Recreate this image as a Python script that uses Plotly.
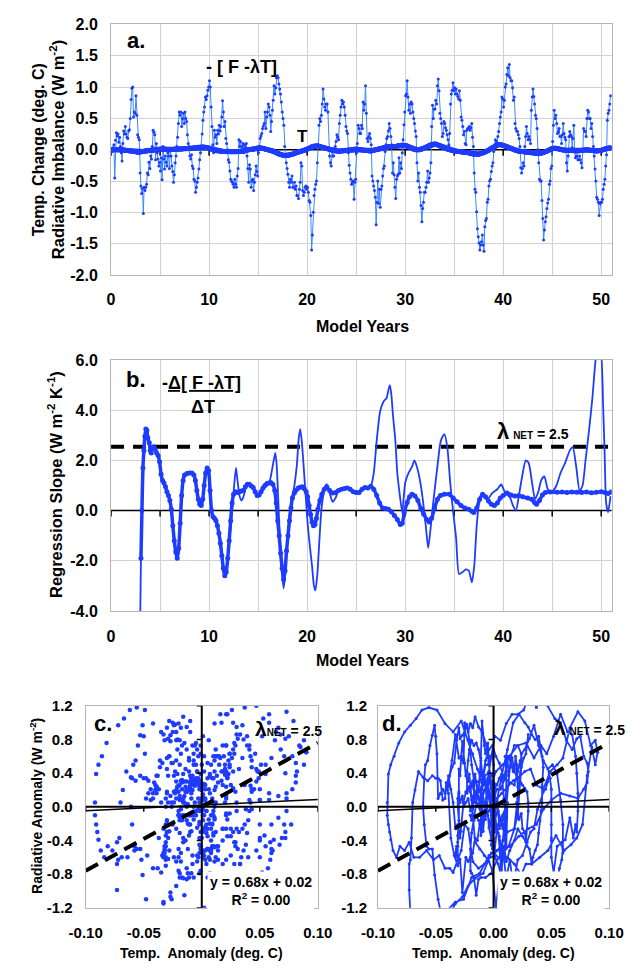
import plotly.graph_objects as go

W, H = 640, 973
FONT = "Liberation Sans"
BLUE = "#1e3cff"
LBLUE = "#3a86ff"


def fx(p):
    return p / W


def fy(p):
    return 1 - p / H


# ---------------- data: panel a (monthly, 51 model years) ----------------
rad_rows = [
    [0.02, -0.03, 0.03, 0.08, -0.45, 0.15, 0.27, 0.22, 0.25, 0.12, 0.2, 0.05],
    [-0.05, -0.18, 0.1, 0.3, 0.25, 0.37, 0.25, 0.2, 0.18, 0.3, 0.32, 0.5],
    [0.8, 0.98, 1.0, 0.52, 0.6, 0.58, 0.86, 0.55, 0.24, 0.2, 0.16, -0.37],
    [-0.58, -0.7, -0.62, -1.02, -0.6, -0.65, -0.6, -0.55, -0.37, -0.4, -0.2, -0.3],
    [-0.1, -0.15, 0.05, 0.31, 0.28, 0.24, -0.16, 0.1, -0.05, -0.15, -0.26, -0.2],
    [-0.34, -0.13, -0.48, 0.05, -0.15, -0.31, -0.1, -0.2, -0.26, -0.05, -0.1, -0.3],
    [0.0, -0.1, -0.26, -0.35, -0.52, -0.4, -0.21, -0.1, 0.05, 0.2, 0.42, 0.6],
    [0.55, 0.6, 0.37, 0.5, 0.58, 0.42, 0.6, 0.5, 0.45, 0.24, 0.1, 0.05],
    [-0.1, -0.15, -0.08, -0.26, -0.3, -0.47, -0.5, -0.68, -0.6, -0.52, -0.45, -0.31],
    [-0.16, -0.05, 0.05, 0.25, 0.47, 0.6, 0.68, 0.84, 0.8, 0.86, 0.95, 1.0],
    [1.1, 1.0, 0.68, 0.37, 0.08, -0.05, 0.31, 0.2, 0.24, 0.1, 0.31, 0.25],
    [0.39, 0.3, 0.37, 0.52, 0.78, 0.6, 0.37, 0.45, 0.18, 0.1, 0.0, -0.16],
    [-0.2, -0.34, -0.47, -0.5, -0.52, -0.55, -0.6, -0.47, -0.55, -0.6, -0.42, -0.3],
    [0.16, 0.05, 0.13, 0.0, 0.05, 0.1, -0.05, 0.08, 0.03, 0.1, -0.1, -0.3],
    [-0.52, -0.24, -0.31, -0.6, -0.5, -0.47, -0.65, -0.52, -0.4, -0.26, -0.35, -0.42],
    [-0.05, 0.05, 0.18, 0.22, 0.26, 0.34, 0.38, 0.42, 0.6, 0.34, 0.52, 0.6],
    [0.73, 0.68, 0.55, 0.29, 0.45, 0.63, 0.79, 1.02, 0.89, 0.99, 1.15, 1.18],
    [1.15, 1.05, 0.97, 0.89, 0.76, 0.6, 0.5, 0.39, 0.05, -0.1, -0.21, -0.3],
    [-0.39, -0.52, -0.6, -0.47, -0.52, -0.42, -0.6, -0.6, -0.52, -0.63, -0.58, -0.73],
    [-0.73, -0.78, -0.63, -0.52, -0.21, -0.26, -0.65, -0.73, -0.68, -0.6, -0.58, -0.63],
    [-0.6, -0.68, -0.81, -0.84, -1.05, -1.6, -1.36, -1.0, -0.73, -0.63, -0.55, -0.5],
    [-0.21, 0.08, 0.39, 0.5, 0.45, 0.55, 0.73, 0.97, 0.81, 0.68, 0.63, 0.73],
    [0.73, 0.6, 0.0, -0.1, -0.21, -0.26, -0.03, -0.1, -0.1, 0.0, 0.05, 0.13],
    [0.24, 0.2, 0.16, 0.42, 0.55, 0.68, 0.79, 0.73, 0.76, 0.68, 0.55, 0.37],
    [0.3, 0.26, -0.05, -0.25, -0.37, -0.47, -0.55, -0.52, -0.5, -0.79, -0.52, -0.47],
    [-0.05, 0.1, 0.39, 0.34, 0.26, 0.26, 0.39, 0.34, 0.76, 0.63, 0.73, 1.02],
    [0.58, 0.18, 0.13, 0.21, 0.26, 0.18, 0.08, -0.42, -0.5, -0.58, -0.65, -0.76],
    [-1.2, -0.84, -0.5, -0.86, -0.63, -0.92, -0.63, -0.58, -0.42, -0.3, -0.26, -0.03],
    [0.08, 0.18, 0.21, 0.3, 0.42, 0.34, 0.21, 0.08, -0.37, -0.21, -0.4, -0.6],
    [-0.78, -0.47, -0.42, -0.39, -0.13, -0.37, -0.21, -0.3, -0.05, 0.16, 0.4, 0.6],
    [0.86, 0.89, 1.1, 0.84, 0.63, 0.73, 0.58, 0.76, 0.73, 0.6, 0.5, 0.42],
    [0.3, 0.21, -0.21, -0.5, -0.37, -0.6, -0.68, -0.89, -1.15, -0.94, -0.84, -0.68],
    [-0.68, -0.6, -0.52, -0.34, -0.52, -0.45, -0.37, -0.21, 0.37, 0.71, 0.5, 0.65],
    [0.65, 0.79, 0.73, 1.02, 1.13, 0.94, 0.58, 0.5, 0.42, 0.21, 0.26, 0.45],
    [0.42, 0.35, 0.31, 0.24, 0.16, 0.08, 0.26, 0.73, 0.89, 0.95, 1.07, 0.94],
    [0.99, 0.89, 0.97, 0.89, 0.85, 0.81, 0.94, 0.79, 0.52, 0.47, 0.37, 0.24],
    [0.29, 0.1, 0.08, 0.31, 0.34, 0.34, 0.37, 0.31, 0.35, 0.42, 0.2, 0.05],
    [-0.37, -0.63, -0.68, -0.99, -1.26, -1.39, -1.49, -1.6, -1.52, -1.47, -1.36, -1.52],
    [-1.62, -1.23, -1.13, -1.1, -0.84, -0.79, -0.58, -0.5, -0.47, -0.35, -0.26, -0.21],
    [-0.03, 0.08, 0.16, 0.13, 0.1, 0.21, 0.29, 0.42, 0.52, 0.6, 0.84, 0.81],
    [0.68, 0.79, 1.0, 1.05, 1.2, 1.31, 1.18, 1.36, 1.15, 1.1, 1.1, 0.99],
    [0.79, 0.84, 0.42, 0.34, 0.3, 0.29, 0.24, 0.18, 0.05, -0.29, -0.37, -0.3],
    [-0.21, -0.26, 0.05, 0.21, 0.37, 0.26, 0.16, 0.21, 0.16, 0.1, 0.63, 0.84],
    [0.97, 0.85, 0.73, 0.55, 0.5, 0.34, 0.0, -0.21, -0.47, -0.5, -0.5, -0.81],
    [-1.1, -1.44, -1.28, -1.15, -1.07, -0.94, -0.85, -0.79, -0.55, -0.5, -0.3, -0.26],
    [0.13, 0.39, 0.63, 0.5, 0.55, 0.42, 0.26, 0.29, 0.34, 0.21, 0.21, 0.1],
    [0.24, 0.42, 0.26, 0.2, 0.16, -0.21, -0.34, -0.1, 0.21, 0.29, 0.24, 0.21],
    [0.03, 0.18, 0.39, -0.03, -0.13, -0.1, -0.1, -0.16, -0.16, -0.1, -0.16, -0.21],
    [-0.29, 0.0, 0.34, 0.3, 0.29, 0.21, 0.5, 0.63, 0.6, 0.5, 0.5, 0.34],
    [0.42, 0.21, 0.05, -0.1, -0.31, -0.5, -0.76, -0.79, -0.84, -1.05, -0.86, -0.84],
    [-0.84, -0.79, -0.63, -0.55, -0.47, -0.26, -0.08, 0.47, 0.58, 0.63, 0.73, 0.86],
]

temp_rows = [
    [0.002, 0.001, 0.003, 0.000, -0.002, 0.001, 0.002, 0.000, -0.001, 0.001, 0.000, -0.002],
    [0.000, -0.002, -0.003, -0.005, -0.006, -0.008, -0.010, -0.012, -0.013, -0.015, -0.017, -0.019],
    [-0.021, -0.023, -0.025, -0.026, -0.028, -0.030, -0.033, -0.036, -0.039, -0.040, -0.039, -0.037],
    [-0.034, -0.031, -0.029, -0.027, -0.024, -0.022, -0.020, -0.018, -0.016, -0.014, -0.012, -0.010],
    [-0.009, -0.007, -0.006, -0.004, -0.003, -0.001, 0.001, 0.003, 0.004, 0.006, 0.008, 0.009],
    [0.010, 0.011, 0.011, 0.012, 0.011, 0.010, 0.009, 0.007, 0.005, 0.004, 0.002, 0.001],
    [0.000, 0.001, 0.003, 0.005, 0.007, 0.008, 0.009, 0.010, 0.010, 0.011, 0.011, 0.010],
    [0.011, 0.012, 0.013, 0.015, 0.016, 0.018, 0.019, 0.020, 0.020, 0.021, 0.021, 0.020],
    [0.021, 0.022, 0.024, 0.025, 0.027, 0.029, 0.031, 0.033, 0.034, 0.036, 0.038, 0.039],
    [0.040, 0.041, 0.042, 0.042, 0.043, 0.042, 0.041, 0.039, 0.036, 0.033, 0.030, 0.027],
    [0.022, 0.017, 0.012, 0.007, 0.003, -0.002, -0.007, -0.011, -0.014, -0.016, -0.018, -0.020],
    [-0.021, -0.022, -0.024, -0.025, -0.027, -0.028, -0.029, -0.030, -0.030, -0.031, -0.031, -0.030],
    [-0.030, -0.031, -0.031, -0.032, -0.032, -0.033, -0.033, -0.032, -0.032, -0.031, -0.031, -0.030],
    [-0.030, -0.029, -0.027, -0.026, -0.024, -0.022, -0.020, -0.017, -0.013, -0.009, -0.005, -0.001],
    [0.001, 0.003, 0.004, 0.006, 0.008, 0.009, 0.011, 0.014, 0.018, 0.021, 0.025, 0.028],
    [0.030, 0.030, 0.029, 0.027, 0.025, 0.022, 0.020, 0.017, 0.013, 0.009, 0.005, 0.002],
    [-0.001, -0.004, -0.007, -0.010, -0.014, -0.018, -0.022, -0.028, -0.035, -0.042, -0.049, -0.056],
    [-0.062, -0.067, -0.072, -0.077, -0.082, -0.086, -0.089, -0.091, -0.092, -0.092, -0.091, -0.090],
    [-0.089, -0.087, -0.084, -0.081, -0.077, -0.073, -0.069, -0.064, -0.058, -0.052, -0.047, -0.042],
    [-0.038, -0.035, -0.031, -0.028, -0.025, -0.022, -0.018, -0.013, -0.008, -0.003, 0.002, 0.007],
    [0.012, 0.018, 0.024, 0.031, 0.038, 0.045, 0.050, 0.054, 0.057, 0.059, 0.060, 0.060],
    [0.060, 0.058, 0.055, 0.051, 0.047, 0.043, 0.039, 0.035, 0.031, 0.027, 0.024, 0.021],
    [0.018, 0.015, 0.011, 0.008, 0.004, 0.001, -0.003, -0.006, -0.010, -0.013, -0.016, -0.019],
    [-0.021, -0.022, -0.023, -0.023, -0.022, -0.021, -0.019, -0.017, -0.015, -0.013, -0.011, -0.010],
    [-0.009, -0.007, -0.005, -0.004, -0.002, -0.001, 0.001, 0.003, 0.005, 0.007, 0.008, 0.010],
    [0.010, 0.009, 0.007, 0.005, 0.003, 0.001, -0.001, -0.003, -0.005, -0.007, -0.008, -0.010],
    [-0.011, -0.013, -0.015, -0.017, -0.019, -0.020, -0.019, -0.016, -0.012, -0.008, -0.004, -0.001],
    [0.002, 0.005, 0.008, 0.011, 0.014, 0.017, 0.021, 0.025, 0.029, 0.032, 0.035, 0.038],
    [0.041, 0.043, 0.045, 0.047, 0.048, 0.049, 0.050, 0.050, 0.050, 0.050, 0.050, 0.050],
    [0.052, 0.055, 0.059, 0.062, 0.066, 0.069, 0.071, 0.072, 0.073, 0.073, 0.072, 0.071],
    [0.068, 0.064, 0.058, 0.052, 0.046, 0.041, 0.035, 0.028, 0.021, 0.014, 0.008, 0.002],
    [-0.001, -0.002, -0.002, -0.001, 0.000, 0.001, 0.004, 0.008, 0.013, 0.018, 0.023, 0.028],
    [0.033, 0.040, 0.047, 0.054, 0.061, 0.067, 0.072, 0.077, 0.081, 0.085, 0.088, 0.090],
    [0.090, 0.088, 0.084, 0.079, 0.073, 0.066, 0.060, 0.055, 0.049, 0.043, 0.037, 0.032],
    [0.027, 0.022, 0.017, 0.012, 0.007, 0.002, -0.002, -0.006, -0.010, -0.013, -0.016, -0.018],
    [-0.020, -0.022, -0.024, -0.025, -0.027, -0.029, -0.030, -0.032, -0.034, -0.036, -0.038, -0.039],
    [-0.041, -0.042, -0.044, -0.046, -0.048, -0.050, -0.053, -0.057, -0.061, -0.065, -0.068, -0.070],
    [-0.071, -0.072, -0.073, -0.073, -0.072, -0.071, -0.069, -0.066, -0.062, -0.058, -0.054, -0.050],
    [-0.046, -0.040, -0.033, -0.026, -0.019, -0.012, -0.004, 0.005, 0.014, 0.022, 0.030, 0.037],
    [0.043, 0.050, 0.058, 0.066, 0.073, 0.078, 0.081, 0.082, 0.081, 0.078, 0.075, 0.072],
    [0.068, 0.063, 0.058, 0.053, 0.047, 0.042, 0.037, 0.032, 0.026, 0.021, 0.016, 0.011],
    [0.006, 0.001, -0.004, -0.009, -0.013, -0.017, -0.021, -0.024, -0.026, -0.028, -0.029, -0.030],
    [-0.031, -0.033, -0.035, -0.037, -0.039, -0.040, -0.042, -0.044, -0.046, -0.048, -0.049, -0.050],
    [-0.051, -0.053, -0.055, -0.057, -0.059, -0.060, -0.061, -0.060, -0.058, -0.056, -0.053, -0.051],
    [-0.048, -0.043, -0.038, -0.033, -0.027, -0.022, -0.016, -0.009, -0.002, 0.005, 0.012, 0.018],
    [0.021, 0.023, 0.024, 0.024, 0.023, 0.021, 0.018, 0.014, 0.010, 0.006, 0.003, 0.000],
    [-0.002, -0.004, -0.006, -0.008, -0.009, -0.010, -0.011, -0.011, -0.010, -0.010, -0.010, -0.011],
    [-0.012, -0.014, -0.016, -0.018, -0.019, -0.020, -0.020, -0.019, -0.017, -0.015, -0.013, -0.011],
    [-0.009, -0.007, -0.005, -0.003, -0.001, 0.000, 0.000, -0.001, -0.003, -0.005, -0.007, -0.009],
    [-0.011, -0.013, -0.015, -0.017, -0.019, -0.020, -0.020, -0.019, -0.017, -0.015, -0.013, -0.011],
    [-0.007, -0.002, 0.003, 0.008, 0.013, 0.018, 0.021, 0.024, 0.026, 0.028, 0.029, 0.030],
]

rad = [v for row in rad_rows for v in row]
temp = [v for row in temp_rows for v in row]
years = [(i + 0.5) / 12 for i in range(len(rad))]

# ---------------- data: panel b (regression slope) ----------------
slope_thick_years = [
    3.05, 3.15, 3.25, 3.35, 3.45, 3.55, 3.65, 3.75, 3.9, 4.0, 4.1, 4.2, 4.35, 4.5, 4.65, 4.8, 4.95,
    5.1, 5.25, 5.4, 5.55, 5.7, 5.85, 6.0, 6.15, 6.3, 6.45, 6.6, 6.75, 6.9, 7.05, 7.2, 7.35, 7.5,
    7.75, 8.0, 8.25, 8.45, 8.6, 8.75, 8.9, 9.05, 9.2, 9.35, 9.5, 9.65, 9.8, 9.95, 10.1, 10.25, 10.4,
    10.55, 10.7, 10.85, 11.0, 11.15, 11.3, 11.45, 11.6, 11.75, 11.9, 12.05, 12.2, 12.35, 12.5, 12.7,
    12.9, 13.1, 13.3, 13.5, 13.7, 13.9, 14.1, 14.3, 14.5, 14.7, 14.9, 15.1, 15.3, 15.5, 15.7, 15.9,
    16.1, 16.3, 16.5, 16.7, 16.85, 17.0, 17.15, 17.3, 17.45, 17.6, 17.75, 17.9, 18.05, 18.2, 18.35,
    18.5, 18.7, 18.9, 19.1, 19.3, 19.5, 19.7, 19.9, 20.05, 20.2, 20.35, 20.5, 20.65, 20.8, 20.95,
    21.1, 21.3, 21.5, 21.75, 22.0, 22.3, 22.6, 22.9, 23.2, 23.5, 23.8, 24.1, 24.4, 24.7, 25.0, 25.3,
    25.6, 25.9, 26.2, 26.5, 26.8, 27.1, 27.4, 27.7, 28.0, 28.3, 28.6, 28.9, 29.2, 29.5, 29.7, 29.9,
    30.2, 30.45, 30.7, 31.0, 31.3, 31.6, 31.9, 32.2, 32.45, 32.7, 33.0, 33.3, 33.6, 34.0, 34.5, 34.9,
    35.3, 35.7, 36.1, 36.5, 36.8, 37.0, 37.3, 37.6, 37.9, 38.2, 38.5, 38.8, 39.1, 39.4, 39.7, 40.0,
    40.4, 40.8, 41.2, 41.6, 42.0, 42.5, 42.9, 43.2, 43.4, 43.7, 44.0, 44.3, 44.8, 45.5, 46.0, 46.5,
    47.0, 47.5, 48.0, 48.5, 49.0, 49.5, 50.0, 50.4, 50.7, 51.0,
]
slope_thick = [
    -1.9, 0.0, 1.7, 2.4, 2.95, 3.25, 3.2, 2.9, 2.7, 2.4, 2.3, 2.5, 2.55, 2.45, 2.3, 2.2, 1.95,
    1.45, 1.2, 1.1, 0.95, 0.75, 0.6, 0.4, 0.05, -0.6, -1.2, -1.65, -1.9, -1.5, -0.5, 0.6, 1.2, 1.42,
    1.48, 1.5, 1.5, 1.42, 1.2, 0.8, 0.45, 0.25, 0.2, 0.45, 1.0, 1.5, 1.7, 1.6, 0.8, 0.0, -0.25,
    -0.3, -0.4, -0.6, -0.9, -1.3, -1.8, -2.3, -2.6, -2.45, -1.9, -1.2, -0.4, 0.3, 0.65, 0.75,
    0.72, 0.75, 0.78, 0.8, 0.95, 1.05, 1.05, 0.98, 0.92, 0.75, 0.6, 0.62, 0.75, 0.9, 1.0, 1.08,
    1.1, 1.12, 1.05, 0.8, 0.3, -0.4, -1.0, -1.7, -2.3, -2.75, -2.4, -1.6, -1.0, -0.4, 0.1,
    0.5, 0.7, 0.82, 0.9, 0.93, 0.95, 0.88, 0.75, 0.55, 0.2, -0.15, -0.45, -0.6, -0.55, -0.3,
    0.05, 0.4, 0.65, 0.85, 0.95, 0.8, 0.7, 0.72, 0.8, 0.85, 0.88, 0.9, 0.85, 0.75, 0.72, 0.72,
    0.85, 0.92, 0.9, 0.97, 0.85, 0.6, 0.3, 0.1, 0.08, 0.05, -0.05, -0.2, -0.35, -0.55, -0.5, -0.1,
    0.32, 0.55, 0.65, 0.58, 0.4, 0.08, -0.15, -0.35, -0.45, -0.3, 0.1, 0.45, 0.6, 0.65, 0.65, 0.5,
    0.35, 0.2, 0.1, 0.05, -0.03, -0.08, 0.1, 0.45, 0.65, 0.55, 0.38, 0.25, 0.2, 0.3, 0.5, 0.6,
    0.7, 0.62, 0.58, 0.6, 0.55, 0.5, 0.45, 0.32, 0.25, 0.4, 0.62, 0.72, 0.74, 0.73, 0.74, 0.72,
    0.74, 0.73, 0.72, 0.74, 0.71, 0.73, 0.75, 0.72, 0.68, 0.74,
]
slope_thin_years = [
    2.97, 3.05, 3.15, 3.25, 3.4, 3.55, 3.7, 3.85, 4.0, 4.2, 4.4, 4.65, 4.9, 5.1, 5.4, 5.7, 6.0,
    6.2, 6.4, 6.6, 6.75, 6.9, 7.05, 7.25, 7.45, 7.8, 8.2, 8.5, 8.8, 9.05, 9.25, 9.45, 9.65, 9.8,
    10.0, 10.15, 10.35, 10.6, 10.85, 11.1, 11.3, 11.45, 11.6, 11.75, 11.95, 12.1, 12.3, 12.45, 12.6,
    12.75, 12.9, 13.1, 13.3, 13.5, 13.8, 14.1, 14.4, 14.7, 15.0, 15.3, 15.6, 15.9, 16.2, 16.5,
    16.75, 16.9, 17.05, 17.2, 17.4, 17.6, 17.75, 17.95, 18.2, 18.45, 18.7, 18.95, 19.15, 19.3,
    19.45, 19.65, 19.85, 20.05, 20.3, 20.5, 20.7, 20.85, 21.05, 21.25, 21.45, 21.7, 22.0, 22.3,
    22.6, 22.9, 23.2, 23.5, 23.8, 24.1, 24.4, 24.7, 25.0, 25.3, 25.6, 25.9, 26.2, 26.5, 26.8,
    27.1, 27.45, 27.8, 28.1, 28.35, 28.45, 28.6, 28.75, 29.0, 29.2, 29.4, 29.7, 30.0, 30.35, 30.7,
    30.95, 31.2, 31.5, 31.8, 32.1, 32.35, 32.6, 32.9, 33.25, 33.65, 34.0, 34.3, 34.6, 34.9, 35.2,
    35.5, 35.85, 36.2, 36.5, 36.8, 37.05, 37.3, 37.6, 37.95, 38.4, 38.9, 39.4, 39.8, 40.2, 40.7,
    41.0, 41.3, 41.65, 42.0, 42.3, 42.6, 42.95, 43.25, 43.55, 43.9, 44.2, 44.55, 44.9, 45.4,
    45.85, 46.3, 46.8, 47.1, 47.45, 47.8, 48.1, 48.4, 48.75, 49.1, 49.4, 49.65, 49.9, 50.2,
    50.35, 50.5, 50.7, 50.95,
]
slope_thin = [
    -4.5, -1.9, 0.0, 1.7, 2.9, 3.25, 3.1, 2.75, 2.6, 2.5, 2.6, 2.35, 2.0, 1.4, 1.1, 0.75, 0.4,
    -0.1, -1.1, -1.65, -1.9, -1.4, -0.4, 0.9, 1.38, 1.5, 1.5, 1.4, 0.8, 0.3, 0.22, 0.8, 1.5, 1.72,
    1.5, 0.4, -0.2, -0.3, -0.6, -1.0, -1.6, -2.2, -2.55, -2.4, -1.7, -1.1, -0.2, 0.5, 1.2,
    1.7, 1.2, 0.6, 0.4, 0.55, 0.95, 1.05, 0.95, 0.7, 0.55, 0.7, 0.9, 1.0, 1.2, 1.8,
    2.3, 1.8, 0.5, -0.9, -2.3, -3.1, -2.6, -1.4, -0.2, 0.5, 1.0, 1.8, 2.9, 3.25,
    2.8, 1.75, 0.6, -0.5, -1.5, -2.2, -3.0, -3.18, -2.5, -1.2, 0.0, 0.7, 1.05, 0.7,
    0.35, 0.5, 0.8, 0.85, 0.88, 0.9, 0.85, 0.75, 0.72, 0.72, 0.85, 0.92, 0.9, 0.97, 1.5,
    2.8, 3.96, 4.35, 4.48, 4.9, 5.0, 4.6, 3.83, 2.8, 1.5, 0.8, -0.06, 1.1, 1.5, 1.75,
    2.0, 1.75, 1.23, 0.45, -0.58, -1.49, -0.7, 0.45, 1.62, 2.8, 3.05, 2.53, 1.1, -0.06, -1.1,
    -2.53, -2.45, -2.34, -2.4, -2.86, -2.2, -0.6, 0.45, 0.7, 0.45, 0.71, 0.85, 1.04, 0.71, 0.52,
    0.2, 0.0, 0.71, 1.5, 2.0, 1.9, 1.1, 0.45, 0.71, 1.23, 1.36, 0.85, 0.71, 0.97,
    1.5, 1.88, 2.4, 2.53, 1.75, 0.78, 1.0, 2.0, 3.18, 4.48, 5.9, 6.5, 6.5, 4.1,
    2.27, 0.32, -0.06, 0.58,
]
LAMBDA_LEVEL = 2.55

# ---------------- data: panels c/d reference lines ----------------
REG_SLOPE = 0.68
REG_INTERCEPT = 0.02
ANOM_X = [-0.10, 0.10]
LAMBDA_GUIDE_Y = [-0.76, 0.76]

X_YEARS_MAX = 51.07

fig = go.Figure()

# panel a
fig.add_trace(go.Scatter(x=years, y=rad, mode="lines+markers", xaxis="x", yaxis="y",
                         line=dict(color=LBLUE, width=1), marker=dict(color=BLUE, size=3)))
fig.add_trace(go.Scatter(x=years, y=temp, mode="lines+markers", xaxis="x", yaxis="y",
                         line=dict(color=BLUE, width=5), marker=dict(color=BLUE, size=5)))

# panel b
fig.add_trace(go.Scatter(x=[0, X_YEARS_MAX], y=[LAMBDA_LEVEL, LAMBDA_LEVEL], mode="lines",
                         xaxis="x2", yaxis="y2",
                         line=dict(color="black", width=4, dash="13px,9px")))
fig.add_trace(go.Scatter(x=slope_thin_years, y=slope_thin, mode="lines", xaxis="x2", yaxis="y2",
                         line=dict(color=BLUE, width=1.8, shape="spline", smoothing=0.6)))
fig.add_trace(go.Scatter(x=slope_thick_years, y=slope_thick, mode="lines+markers",
                         xaxis="x2", yaxis="y2",
                         line=dict(color=BLUE, width=3.5, shape="spline", smoothing=0.6),
                         marker=dict(color=BLUE, size=5)))

# panel c
fig.add_trace(go.Scatter(x=temp, y=rad, mode="markers", xaxis="x3", yaxis="y3",
                         marker=dict(color=BLUE, size=4.5)))
# panel d
fig.add_trace(go.Scatter(x=temp, y=rad, mode="lines+markers", xaxis="x4", yaxis="y4",
                         line=dict(color=BLUE, width=1.8), marker=dict(color=BLUE, size=3)))

reg_y = [REG_SLOPE * x + REG_INTERCEPT for x in ANOM_X]
for xa, ya in (("x3", "y3"), ("x4", "y4")):
    fig.add_trace(go.Scatter(x=ANOM_X, y=reg_y, mode="lines", xaxis=xa, yaxis=ya,
                             line=dict(color="black", width=1.5)))
    fig.add_trace(go.Scatter(x=ANOM_X, y=LAMBDA_GUIDE_Y, mode="lines", xaxis=xa, yaxis=ya,
                             line=dict(color="black", width=4, dash="14px,8px")))

# ---------------- axes ----------------
tickfont_x = dict(family=FONT, size=16, color="black", weight="bold")
tickfont_y = dict(family=FONT, size=16, color="black", weight="bold")
tickfont_cx = dict(family=FONT, size=15, color="black", weight="bold")
tickfont_s = dict(family=FONT, size=15, color="black", weight="bold")
BORDER = "#b4b4b4"
GRID = "#d2d2d2"

year_ticks = list(range(0, 55, 10))
a_y_ticks = [-2.0 + 0.5 * i for i in range(9)]
b_y_ticks = [-4.0 + 2.0 * i for i in range(6)]
cd_y_ticks = [-1.2 + 0.4 * i for i in range(7)]
cd_x_ticks = [-0.10, -0.05, 0.0, 0.05, 0.10]
minor_years = list(range(5, 55, 10))


def fmt(v, n):
    s = f"{v:.{n}f}"
    if s.startswith("-") and float(s) == 0:
        s = s[1:]
    return s


def xaxis_def(domain, rng, tv, tt, anchor, grid, font, standoff, minor=None):
    d = dict(domain=domain, range=rng, tickvals=tv, ticktext=tt, anchor=anchor,
             showgrid=grid, gridcolor=GRID, gridwidth=1, zeroline=False,
             showline=True, linecolor=BORDER, linewidth=1, mirror=True,
             ticks="", tickfont=font, ticklabelstandoff=standoff, fixedrange=True)
    if minor is not None:
        d["minor"] = dict(tickvals=minor, showgrid=True, gridcolor=GRID, gridwidth=1, ticks="")
    return d


def yaxis_def(domain, rng, tv, tt, anchor, grid, font, gap):
    return dict(domain=domain, range=rng, tickvals=tv, ticktext=tt, anchor=anchor,
                showgrid=grid, gridcolor=GRID, gridwidth=1, zeroline=False,
                showline=True, linecolor=BORDER, linewidth=1, mirror=True,
                ticks="outside", ticklen=gap, tickcolor="rgba(0,0,0,0)",
                tickfont=font, fixedrange=True)


fig.update_layout(
    width=W, height=H, margin=dict(l=0, r=0, t=0, b=0),
    paper_bgcolor="white", plot_bgcolor="white", showlegend=False,
    xaxis=xaxis_def([fx(99), fx(626)], [0, X_YEARS_MAX], year_ticks, [str(v) for v in year_ticks],
                    "y", True, tickfont_x, 10, minor_years),
    yaxis=yaxis_def([fy(271), fy(15.7)], [-2, 2], a_y_ticks, [fmt(v, 1) for v in a_y_ticks], "x",
                    True, tickfont_y, 9),
    xaxis2=xaxis_def([fx(99), fx(626)], [0, X_YEARS_MAX], year_ticks, [str(v) for v in year_ticks],
                     "y2", True, tickfont_x, 11, minor_years),
    yaxis2=yaxis_def([fy(613.3), fy(357.7)], [-4, 6], b_y_ticks, [fmt(v, 1) for v in b_y_ticks],
                     "x2", True, tickfont_y, 9),
    xaxis3=xaxis_def([fx(72.3), fx(316.7)], [-0.1, 0.1], cd_x_ticks, [fmt(v, 2) for v in cd_x_ticks],
                     "y3", False, tickfont_cx, 11),
    yaxis3=yaxis_def([fy(915.7), fy(710)], [-1.2, 1.2], cd_y_ticks, [fmt(v, 1) for v in cd_y_ticks],
                     "x3", False, tickfont_s, 9),
    xaxis4=xaxis_def([fx(380), fx(623.3)], [-0.1, 0.1], cd_x_ticks, [fmt(v, 2) for v in cd_x_ticks],
                     "y4", False, tickfont_cx, 11),
    yaxis4=yaxis_def([fy(915.7), fy(710)], [-1.2, 1.2], cd_y_ticks, [fmt(v, 1) for v in cd_y_ticks],
                     "x4", False, tickfont_s, 7),
)

# ---------------- zero axes with tick marks ----------------
shapes = []
tick5 = list(range(0, 55, 5))
for xa, ya in (("x", "y"), ("x2", "y2")):
    shapes.append(dict(type="line", xref=xa, yref=ya, x0=0, x1=X_YEARS_MAX, y0=0, y1=0,
                       line=dict(color="black", width=1.5), layer="between"))
    for v in tick5:
        shapes.append(dict(type="line", xref=xa, yref=ya, x0=v, x1=v, ysizemode="pixel",
                           yanchor=0, y0=0, y1=-6, line=dict(color="black", width=1.5),
                           layer="between"))
for xa, ya in (("x3", "y3"), ("x4", "y4")):
    shapes.append(dict(type="line", xref=xa, yref=ya, x0=-0.1, x1=0.1, y0=0, y1=0,
                       line=dict(color="black", width=2), layer="above"))
    shapes.append(dict(type="line", xref=xa, yref=ya, x0=0, x1=0, y0=-1.2, y1=1.2,
                       line=dict(color="black", width=2), layer="above"))
    for v in cd_x_ticks:
        shapes.append(dict(type="line", xref=xa, yref=ya, x0=v, x1=v, ysizemode="pixel",
                           yanchor=0, y0=0, y1=-5, line=dict(color="black", width=1.5),
                           layer="above"))
    for v in cd_y_ticks:
        shapes.append(dict(type="line", xref=xa, yref=ya, y0=v, y1=v, xsizemode="pixel",
                           xanchor=0, x0=0, x1=-5, line=dict(color="black", width=1.5),
                           layer="above"))
fig.update_layout(shapes=shapes)

# ---------------- text ----------------
ann = []


def text(x, y, s, size, angle=0, bold=True, bg=None, xanchor="center"):
    d = dict(x=fx(x), y=fy(y), xref="paper", yref="paper", text=s, showarrow=False,
             xanchor=xanchor, yanchor="middle", textangle=angle,
             font=dict(family=FONT, size=size, color="black", weight="bold" if bold else "normal"))
    if bg:
        d["bgcolor"] = bg
        d["borderpad"] = 2
    ann.append(d)


# axis titles
text(22, 143, "Temp. Change (deg. C)", 16, -90)
text(43, 143, "Radiative Imbalance (W m<sup>-2</sup>)", 16.5, -90)
text(364, 323, "Model Years", 16)
text(40, 485, "Regression Slope (W m<sup>-2</sup> K<sup>-1</sup>)", 16.5, -90)
text(364, 664, "Model Years", 16)
text(20, 812, "Radiative Anomaly (W m<sup>-2</sup>)", 14, -90)
text(194, 962, "Temp.&nbsp; Anomaly (deg. C)", 14)
text(502, 962, "Temp.&nbsp; Anomaly (deg. C)", 14)

# panel a
text(125, 32, "a.", 22)
text(236, 59, "- [ F -λT]", 18)
text(300, 130, "T", 17)

# panel b
text(125, 377, "b.", 22)
text(194, 381, "-<u>Δ[ F -λT]</u>", 18)
text(196, 406, "ΔT", 18)
text(543, 430, '<span style="font-size:22px">λ</span> <span style="font-size:10px">NET</span> = 2.5', 14)

# panel c
text(91, 728, "c.", 22, bg="white")
text(286, 733, '<span style="font-size:21px">λ</span><span style="font-size:10px">NET</span> = 2.5', 14)
text(257, 899, "y = 0.68x + 0.02<br>R<sup>2</sup> = 0.00", 14, bg="white")

# panel d
text(395, 728, "d.", 22)
text(603, 732, '<span style="font-size:21px">λ</span> <span style="font-size:10px">NET</span> = 2.5', 14)
text(562, 899, "y = 0.68x + 0.02<br>R<sup>2</sup> = 0.00", 14, bg="white")

fig.update_layout(annotations=ann)

fig.write_html("out.html")
